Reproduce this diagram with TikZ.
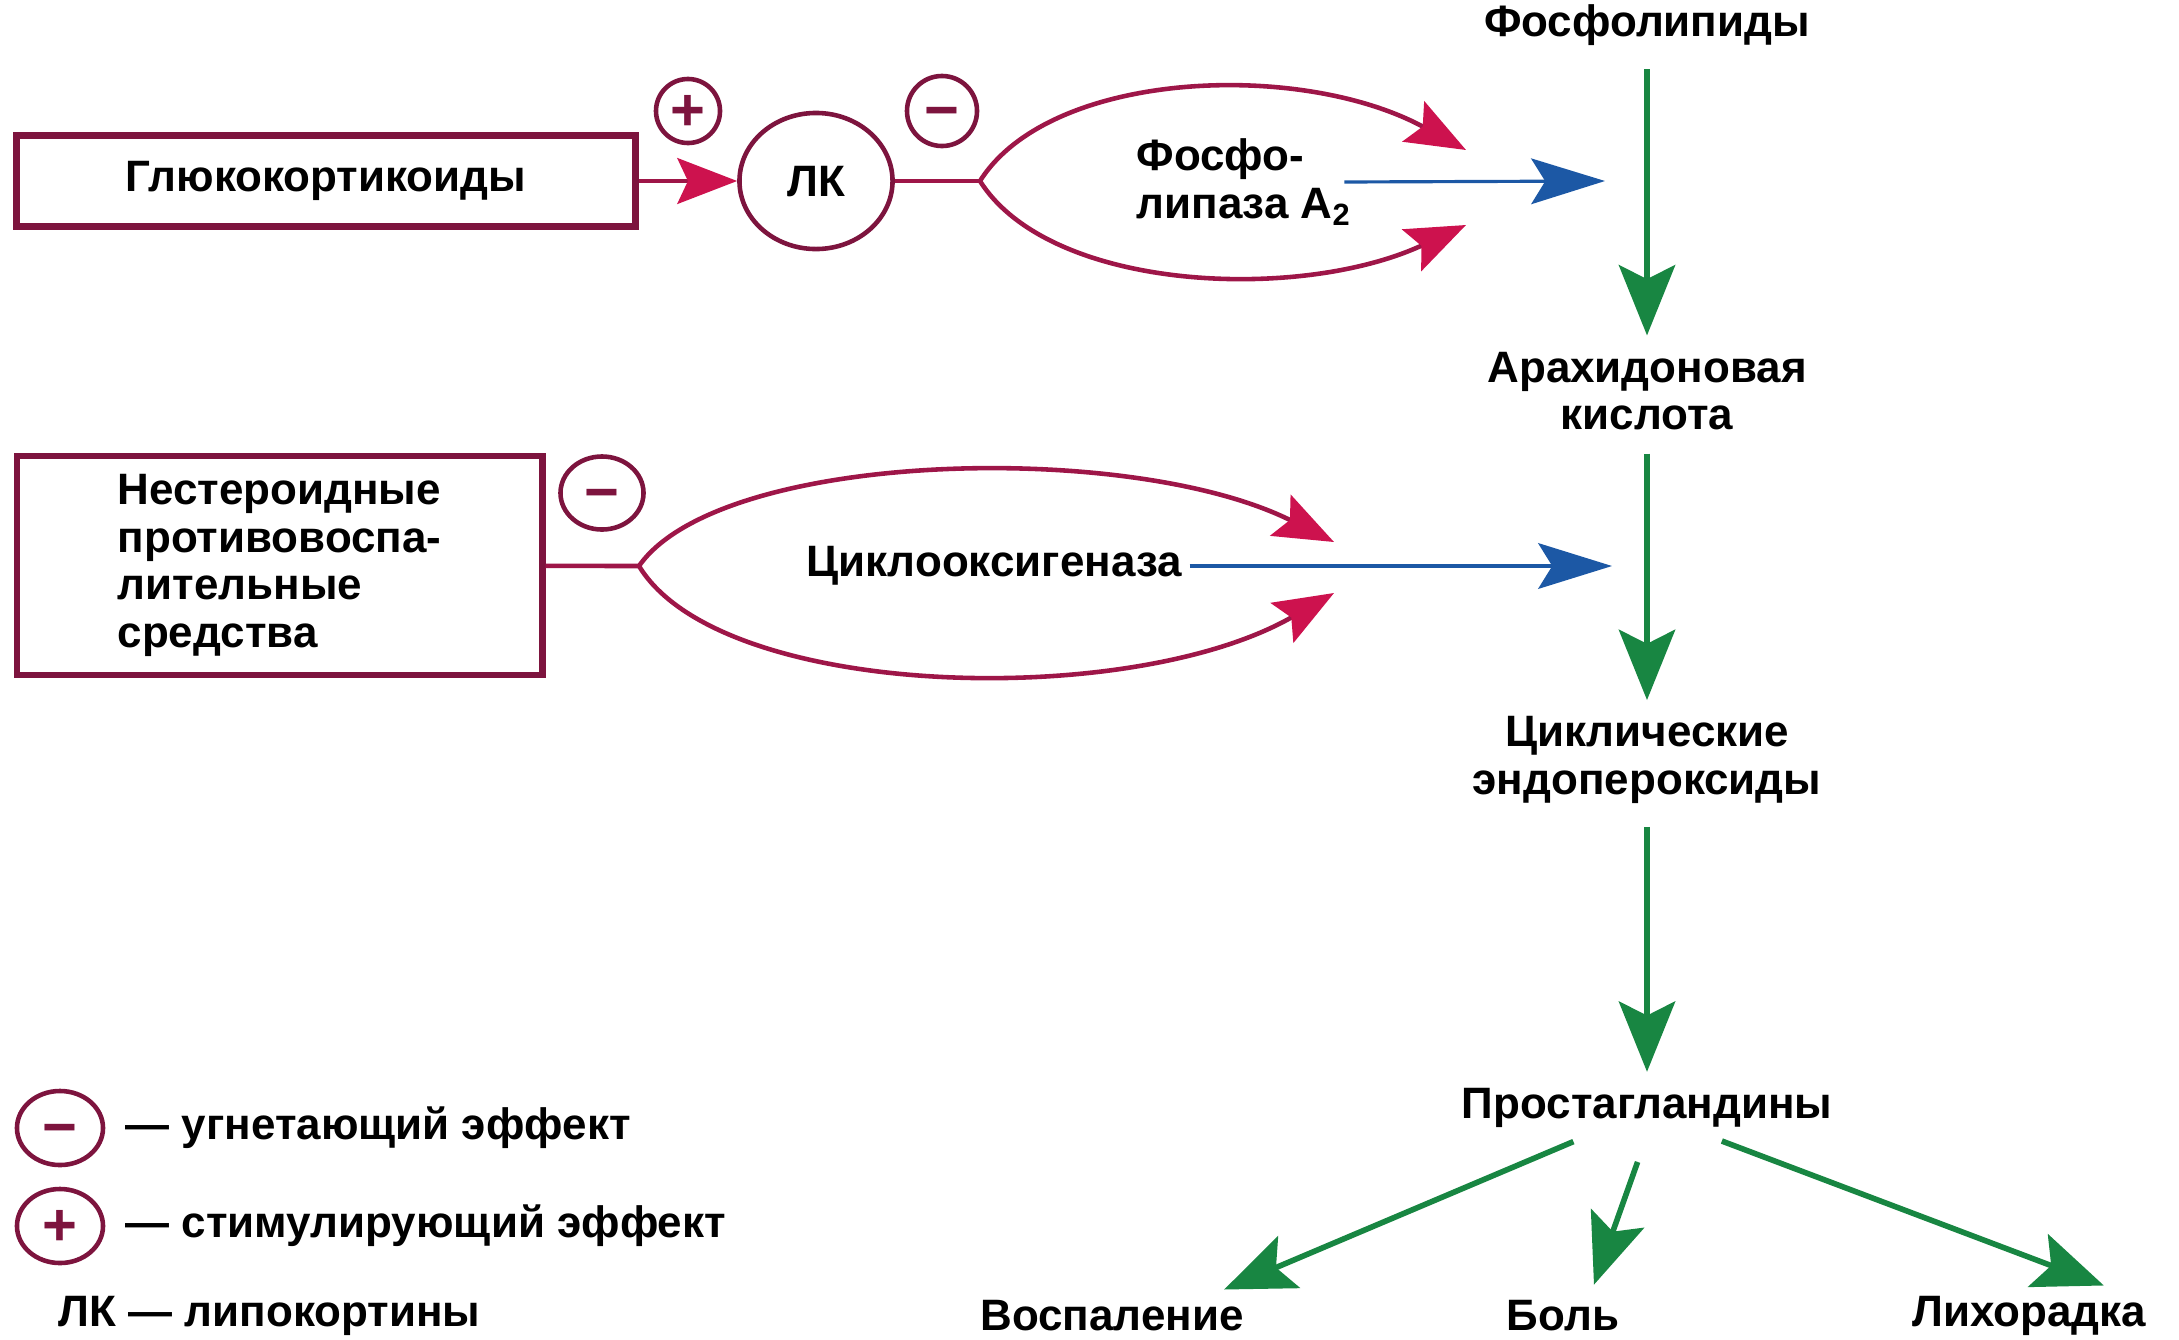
\documentclass[tikz,border=0pt]{standalone}
\usepackage{fontspec}
\setmainfont{Liberation Sans}
\usetikzlibrary{arrows.meta,shapes.geometric}

\definecolor{boxred}{RGB}{125,20,62}
\definecolor{curvered}{RGB}{158,22,72}
\definecolor{tipred}{RGB}{205,18,78}
\definecolor{arrblue}{RGB}{28,88,165}
\definecolor{arrgreen}{RGB}{24,134,66}

\tikzset{
    lbl/.style={font=\fontsize{12.5}{13.5}\selectfont\bfseries, inner sep=2pt, align=center},
    drugbox/.style={draw=boxred, line width=1.9pt, font=\fontsize{12.5}{13.6}\selectfont\bfseries},
    effect/.style={ellipse, draw=boxred, line width=1.3pt, inner sep=0pt, text=boxred,
        text height=11pt, text depth=0pt, font=\fontsize{17}{17}\selectfont\bfseries},
    redline/.style={draw=curvered, line width=1.3pt},
    redarr/.style={redline, -{Stealth[length=17pt,width=13pt,inset=3pt,color=tipred]}},
    bluearr/.style={draw=arrblue, line width=0.9pt, -{Stealth[length=21pt,width=13pt,inset=4pt]}},
    greenarr/.style={draw=arrgreen, line width=1.6pt, -{Stealth[length=20pt,width=16pt,inset=4pt]},
        shorten <=4.5pt, shorten >=2.5pt}
}

\begin{document}
\begin{tikzpicture}[x=0.01cm, y=-0.01cm]
    \useasboundingbox (0,0) rectangle (2179,1339);

    %Drug boxes
    \node[drugbox, minimum width=6.18cm, minimum height=0.91cm] (gluco) at (326,181) {Глюкокортикоиды};
    \node[drugbox, minimum width=5.25cm, minimum height=2.19cm, align=left] (nsaid) at (279.5,565.5)
        {Нестероидные\\противовоспа-\\лительные\\средства};

    %Lipocortins and effect marks
    \node[effect, minimum width=1.53cm, minimum height=1.36cm, text=black, text height=9pt,
        font=\fontsize{12.5}{13}\selectfont\bfseries] (lk) at (816,181) {ЛК};
    \node[effect, minimum width=0.64cm, minimum height=0.64cm] (plusA) at (688,111) {+};
    \node[effect, minimum width=0.70cm, minimum height=0.70cm] (minusA) at (942,111) {−};
    \node[effect, minimum width=0.83cm, minimum height=0.73cm] (minusB) at (602,493) {−};

    %Enzymes
    \node[lbl, align=left] (pla) at (1244,182) {Фосфо-\\липаза A\textsubscript{2}};
    \node[lbl] (cox) at (994,566) {Циклооксигеназа};

    %Cascade
    \node[lbl] (phosph) at (1647,25) {Фосфолипиды};
    \node[lbl] (arach) at (1647,391) {Арахидоновая\\кислота};
    \node[lbl] (endo) at (1647,760) {Циклические\\эндопероксиды};
    \node[lbl] (prost) at (1647,1108) {Простагландины};
    \node[lbl] (infl) at (1112,1316) {Воспаление};
    \node[lbl] (pain) at (1563,1316) {Боль};
    \node[lbl] (fever) at (2029,1316) {Лихорадка};

    \coordinate (forkA) at (980,181);
    \coordinate (tipAup) at (1466,150);
    \coordinate (tipAdn) at (1466,225);
    \coordinate (tipAbl) at (1605,181);
    \coordinate (forkB) at (639,566);
    \coordinate (tipBup) at (1334,542);
    \coordinate (tipBdn) at (1334,593);
    \coordinate (tipBbl) at (1612,566);

    %Glucocorticoid branch
    \draw[redarr] (gluco) -- (lk);
    \draw[redline] (lk) -- (forkA);
    \draw[redarr] (forkA) .. controls (1050,70) and (1300,60) .. (tipAup);
    \draw[redarr] (forkA) .. controls (1050,292) and (1300,302) .. (tipAdn);
    \draw[bluearr] ([xshift=-0.15cm]pla.east) -- (tipAbl);

    %NSAID branch
    \draw[redline] (nsaid) -- (forkB);
    \draw[redarr] (forkB) .. controls (720,450) and (1130,440) .. (tipBup);
    \draw[redarr] (forkB) .. controls (720,700) and (1130,710) .. (tipBdn);
    \draw[bluearr] (cox.east) -- (tipBbl);

    %Cascade arrows
    \draw[greenarr] (phosph) -- (arach);
    \draw[greenarr] (arach) -- (endo);
    \draw[greenarr] (endo) -- (prost);
    \draw[greenarr] ([xshift=-0.59cm]prost.south) -- ([xshift=1.04cm]infl.north);
    \draw[greenarr, shorten <=8pt] (prost.south) -- ([xshift=0.28cm]pain.north);
    \draw[greenarr] ([xshift=0.6cm]prost.south) -- ([xshift=0.83cm]fever.north);

    %Legend
    \node[effect, minimum width=0.86cm, minimum height=0.74cm] (legminus) at (60,1128) {−};
    \node[effect, minimum width=0.86cm, minimum height=0.74cm] (legplus) at (60,1226) {+};
    \node[lbl, anchor=west] (legminustxt) at (118,1128) {— угнетающий эффект};
    \node[lbl, anchor=west] (legplustxt) at (118,1226) {— стимулирующий эффект};
    \node[lbl, anchor=west] (leglk) at (51,1316) {ЛК — липокортины};
\end{tikzpicture}
\end{document}
